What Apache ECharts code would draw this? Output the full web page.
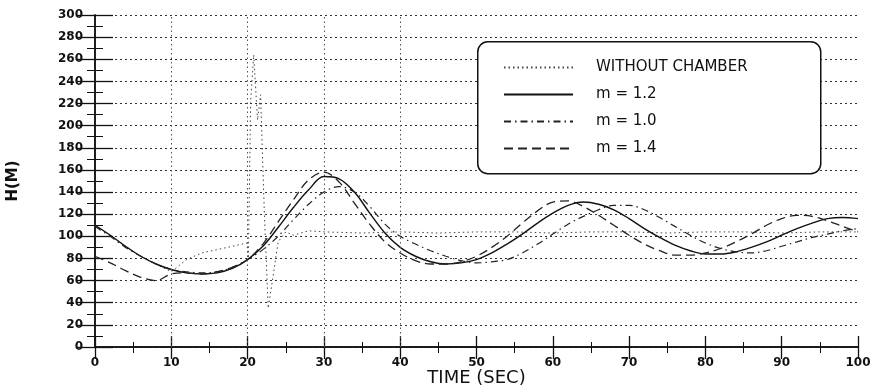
<!DOCTYPE html>
<html>
<head>
<meta charset="utf-8">
<script src="https://cdn.jsdelivr.net/npm/echarts@6/dist/echarts.min.js"></script>
<style>
  html, body { margin: 0; padding: 0; background: #fff; }
  #chart { width: 874px; height: 389px; }
</style>
</head>
<body>
<div id="chart"></div>
<script>
// time grid (sec) shared by the three chamber runs
const timeSec = [0, 2, 4, 6, 8, 10, 12, 14, 16, 18, 20, 22, 24, 26, 28, 30, 32, 34, 36, 38,
  40, 42, 44, 46, 48, 50, 52, 54, 56, 58, 60, 62, 64, 66, 68, 70, 72, 74, 76, 78,
  80, 82, 84, 86, 88, 90, 92, 94, 96, 98, 100];

// head H (m)
const hM12 = [110, 101, 91, 82, 75, 70, 67, 66, 67, 71, 79, 91, 108, 126, 142, 154, 152, 140, 121, 103,
  90, 82, 77, 75, 76, 79, 85, 93, 102, 112, 121, 128, 131, 129, 124, 116, 107, 99, 92, 87,
  84, 84, 86, 90, 95, 101, 107, 112, 116, 117, 116];
const hM10 = [109, 100, 90, 82, 75, 70, 68, 67, 68, 72, 79, 88, 100, 115, 129, 140, 145, 140, 127, 111,
  100, 93, 87, 82, 78, 76, 77, 79, 85, 93, 102, 111, 118, 124, 128, 128, 124, 117, 109, 101,
  94, 89, 86, 85, 87, 91, 95, 99, 102, 105, 107];
const hM14 = [82, 76, 69, 63, 60, 66, 67, 66, 68, 72, 79, 93, 113, 133, 151, 158, 149, 130, 111, 95,
  85, 78, 75, 75, 77, 82, 90, 100, 112, 123, 131, 132, 127, 119, 110, 101, 93, 87, 83, 83,
  85, 89, 95, 102, 110, 116, 119, 118, 114, 109, 104];

// run without surge chamber (own time points, spike near 20 s)
const tNoChamber = [0, 2, 4, 6, 8, 10, 12, 14, 16, 18, 19.9, 20.1, 20.4, 20.8, 21.3, 21.7, 22.2, 22.7, 23.3, 24,
  25, 26, 28, 30, 35, 40, 45, 50, 55, 60, 65, 70, 75, 80, 85, 90, 95, 100];
const hNoChamber = [110, 101, 91, 82, 75, 68, 79, 85, 88, 91, 94, 80, 222, 264, 205, 228, 120, 35, 62, 95,
  104, 101, 105, 104, 103, 104, 103, 104, 104, 103, 104, 104, 103, 104, 104, 103, 104, 104];

const legendNames = ["WITHOUT CHAMBER", "m = 1.2", "m = 1.0", "m = 1.4"];
const vGridTimes = [10, 20, 30, 40];

const pairs = (ts, hs) => ts.map((t, i) => [t, hs[i]]);

const FONT = "DejaVu Sans";
const INK = "#111";

const chart = echarts.init(document.getElementById("chart"), null, { renderer: "canvas" });

const tickBase = {
  show: true,
  inside: true,
  lineStyle: { color: INK, width: 1.3 },
};

const option = {
  animation: false,
  backgroundColor: "#fff",
  grid: {
    left: 95,
    right: 16,
    top: 15,
    bottom: 42,
    containLabel: false,
    outerBoundsMode: "none",
  },

  // rounded legend frame
  graphic: [
    {
      type: "rect",
      left: 477,
      top: 41,
      z: 3,
      shape: { width: 343, height: 132, r: 10 },
      style: { fill: "#fff", stroke: INK, lineWidth: 1.5 },
    },
  ],

  legend: {
    data: legendNames.map((name) => ({ name, itemStyle: { opacity: 0 } })),
    orient: "vertical",
    left: 503,
    top: 60,
    padding: 0,
    z: 5,
    itemWidth: 69,
    itemHeight: 14,
    itemGap: 12,
    textStyle: {
      fontFamily: FONT,
      fontSize: 15,
      color: INK,
      padding: [0, 0, 0, 18],
    },
  },

  xAxis: [
    {
      type: "value",
      min: 0,
      max: 100,
      interval: 10,
      name: "TIME (SEC)",
      nameLocation: "middle",
      nameGap: 22,
      nameMoveOverlap: false,
      nameTextStyle: { fontFamily: FONT, fontSize: 18, color: INK },
      axisLine: { show: true, lineStyle: { color: INK, width: 1.5 } },
      axisTick: { ...tickBase, length: 11 },
      minorTick: { show: true, splitNumber: 2, length: 5, lineStyle: { color: INK, width: 1 } },
      axisLabel: { fontFamily: FONT, fontSize: 12, fontWeight: "bold", color: INK, margin: 10 },
      splitLine: { show: false },
    },
    {
      type: "value",
      position: "top",
      min: 0,
      max: 100,
      interval: 10,
      axisLine: { show: true, lineStyle: { color: INK, width: 1.5 } },
      axisTick: { ...tickBase, length: 12 },
      minorTick: { show: true, splitNumber: 2, length: 6, lineStyle: { color: INK, width: 1 } },
      axisLabel: { show: false },
      splitLine: { show: false },
    },
  ],

  yAxis: [
    {
      type: "value",
      min: 0,
      max: 300,
      interval: 20,
      name: "H(M)",
      nameLocation: "middle",
      nameGap: 74,
      nameMoveOverlap: false,
      nameTextStyle: { fontFamily: FONT, fontSize: 15, fontWeight: "bold", color: INK },
      axisLine: { show: true, lineStyle: { color: INK, width: 1.5 } },
      axisTick: { ...tickBase, length: 18 },
      minorTick: { show: true, splitNumber: 2, length: 8, lineStyle: { color: INK, width: 1 } },
      axisLabel: { fontFamily: FONT, fontSize: 12, fontWeight: "bold", color: INK, margin: 12 },
      splitLine: {
        show: true,
        lineStyle: { color: "#333", width: 1, type: [2, 3] },
      },
    },
    {
      type: "value",
      position: "right",
      min: 0,
      max: 300,
      interval: 20,
      axisLine: { show: true, lineStyle: { color: INK, width: 1.5 } },
      axisTick: { ...tickBase, length: 18 },
      minorTick: { show: true, splitNumber: 2, length: 8, lineStyle: { color: INK, width: 1 } },
      axisLabel: { show: false },
      splitLine: { show: false },
    },
  ],

  series: [
    {
      name: "WITHOUT CHAMBER",
      type: "line",
      data: pairs(tNoChamber, hNoChamber),
      symbol: "none",
      smooth: false,
      z: 2,
      lineStyle: { color: "#444", width: 1, type: [1.5, 3] },
      itemStyle: { color: "#444" },
      markLine: {
        silent: true,
        symbol: "none",
        label: { show: false },
        lineStyle: { color: "#555", width: 1, type: [1.5, 3] },
        data: vGridTimes.map((t) => ({ xAxis: t })),
      },
    },
    {
      name: "m = 1.2",
      type: "line",
      data: pairs(timeSec, hM12),
      symbol: "none",
      smooth: 0.35,
      z: 2,
      lineStyle: { color: INK, width: 1.4, type: "solid" },
      itemStyle: { color: INK },
    },
    {
      name: "m = 1.0",
      type: "line",
      data: pairs(timeSec, hM10),
      symbol: "none",
      smooth: 0.35,
      z: 2,
      lineStyle: { color: "#222", width: 1.2, type: [7, 4, 1.5, 4] },
      itemStyle: { color: "#222" },
    },
    {
      name: "m = 1.4",
      type: "line",
      data: pairs(timeSec, hM14),
      symbol: "none",
      smooth: 0.35,
      z: 2,
      lineStyle: { color: "#222", width: 1.3, type: [9, 5] },
      itemStyle: { color: "#222" },
    },
  ],
};

chart.setOption(option);
</script>
</body>
</html>
